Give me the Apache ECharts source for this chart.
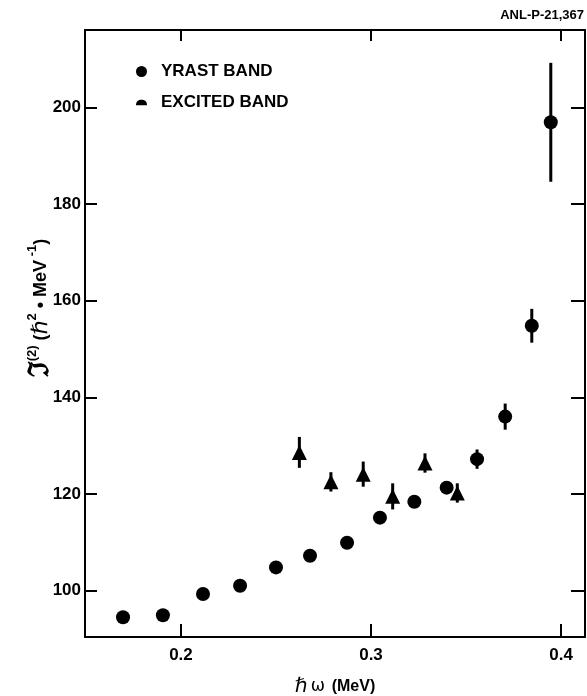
<!DOCTYPE html>
<html><head><meta charset="utf-8">
<script src="https://cdn.jsdelivr.net/npm/echarts@6/dist/echarts.min.js"></script>
<style>html,body{margin:0;padding:0;background:#fff}#c{width:587px;height:696px}</style>
</head><body><div id="c"></div>
<script>
// ---- data ----
const yrastX   = [0.1695,0.1905,0.2116,0.2311,0.2500,0.2679,0.2874,0.3047,0.3228,0.3398,0.3558,0.3706,0.3846,0.3946];
const yrastY   = [94.5,94.9,99.3,101.0,104.8,107.2,109.9,115.1,118.4,121.3,127.2,136.0,154.8,196.9];
const yrastErr = [0,0,0,0,0,0,0,0,0,0,2.0,2.7,3.5,12.3];
const excitedX   = [0.2623,0.2789,0.2959,0.3114,0.3284,0.3454];
const excitedY   = [128.6,122.5,124.1,119.5,126.4,120.2];
const excitedErr = [3.2,2.0,2.6,2.7,2.0,2.0];
const xTickValues = [0.2,0.3,0.4];
const yTickValues = [100,120,140,160,180,200];
const seriesNames = ['YRAST BAND','EXCITED BAND'];

const FONT = "'Liberation Sans',Arial,Helvetica,sans-serif";
const chart = echarts.init(document.getElementById('c'), null, {renderer:'canvas'});

function errRender(w){
  return function(params, api){
    const x = api.value(0), y = api.value(1), e = api.value(2);
    if (!e) return null;
    const p1 = api.coord([x, y - e]), p2 = api.coord([x, y + e]);
    return {type:'line', shape:{x1:p1[0], y1:p1[1], x2:p2[0], y2:p2[1]},
            style:{stroke:'#000', lineWidth:w}};
  };
}

const xMin = 0.1495, xMax = 0.4126, yMin = 90.4, yMax = 216.0;
const axisLineStyle = {color:'#000', width:2};

const option = {
  backgroundColor:'#fff',
  animation:false,
  grid:{left:85, right:2, top:30, bottom:59, outerBoundsMode:'none'},
  xAxis:[
    {type:'value', min:xMin, max:xMax, position:'bottom',
     axisLine:{lineStyle:axisLineStyle},
     axisTick:{inside:true, length:13, customValues:xTickValues, lineStyle:{color:'#000', width:2}},
     axisLabel:{customValues:xTickValues, formatter:v=>v.toFixed(1), color:'#000',
                fontSize:17, fontWeight:'bold', fontFamily:FONT, margin:10},
     splitLine:{show:false},
     name:'{h|ℏ} {w|ω}  {m|(MeV)}', nameLocation:'middle', nameGap:40,
     nameTextStyle:{color:'#000', rich:{
        h:{fontSize:20, fontFamily:'DejaVu Sans', color:'#000'},
        w:{fontSize:17, fontFamily:'DejaVu Sans', color:'#000'},
        m:{fontSize:16, fontFamily:FONT, fontWeight:'bold', color:'#000'}}}},
    {type:'value', min:xMin, max:xMax, position:'top',
     axisLine:{lineStyle:axisLineStyle},
     axisTick:{inside:true, length:11, customValues:xTickValues, lineStyle:{color:'#000', width:2}},
     axisLabel:{show:false}, splitLine:{show:false}}
  ],
  yAxis:[
    {type:'value', min:yMin, max:yMax, position:'left',
     axisLine:{show:true, lineStyle:axisLineStyle},
     axisTick:{show:true, inside:true, length:12, customValues:yTickValues, lineStyle:{color:'#000', width:2}},
     axisLabel:{customValues:yTickValues, color:'#000', fontSize:17, fontWeight:'bold', fontFamily:FONT, margin:4},
     splitLine:{show:false}},
    {type:'value', min:yMin, max:yMax, position:'right',
     axisLine:{show:true, lineStyle:axisLineStyle},
     axisTick:{show:true, inside:true, length:14, customValues:yTickValues, lineStyle:{color:'#000', width:2}},
     axisLabel:{show:false}, splitLine:{show:false}}
  ],
  legend:{
    orient:'vertical', left:136, top:63, padding:0, itemGap:14,
    itemWidth:11, itemHeight:11,
    textStyle:{fontSize:17, fontWeight:'bold', fontFamily:FONT, color:'#000', padding:[0,0,0,9]},
    data:[
      {name:seriesNames[0], icon:'circle', itemStyle:{color:'#000', opacity:1}},
      {name:seriesNames[1], icon:'path://M0,10 C0,3 4,0 10,0 C16,0 20,3 20,10 Z', itemStyle:{color:'#000', opacity:1}}
    ]
  },
  graphic:[
    {type:'text', right:3, top:9,
     style:{text:'ANL-P-21,367', fontSize:13, fontWeight:'bold', fontFamily:FONT, fill:'#000'}},
    {type:'text', x:41, y:308, rotation:Math.PI/2,
     style:{
       text:'{j|ℑ}{s|(2)}{n| (}{h|ℏ}{s|2}{n| • MeV}{s| -1}{n|)}',
       align:'center', verticalAlign:'middle', fill:'#000',
       rich:{
         j:{fontSize:28, fontWeight:'bold', fontFamily:'DejaVu Serif', lineHeight:30, fill:'#000'},
         n:{fontSize:18, fontFamily:FONT, fontWeight:'bold', lineHeight:30, fill:'#000'},
         h:{fontSize:22, fontFamily:'DejaVu Sans', lineHeight:30, fill:'#000'},
         s:{fontSize:13, fontFamily:FONT, fontWeight:'bold', verticalAlign:'top', lineHeight:14, fill:'#000'}
       }}}
  ],
  series:[
    {name:seriesNames[0], type:'scatter', xAxisIndex:0, yAxisIndex:0,
     symbol:'circle', symbolSize:14, itemStyle:{color:'#000', opacity:1}, z:3,
     data:yrastX.map((x,i)=>[x, yrastY[i]])},
    {name:seriesNames[1], type:'scatter', xAxisIndex:0, yAxisIndex:0,
     symbol:'triangle', symbolSize:[15,15], itemStyle:{color:'#000', opacity:1}, z:3,
     data:excitedX.map((x,i)=>[x, excitedY[i]])},
    {name:'yrast-err', type:'custom', xAxisIndex:0, yAxisIndex:0, z:2,
     renderItem:errRender(3), data:yrastX.map((x,i)=>[x, yrastY[i], yrastErr[i]])},
    {name:'excited-err', type:'custom', xAxisIndex:0, yAxisIndex:0, z:2,
     renderItem:errRender(3), data:excitedX.map((x,i)=>[x, excitedY[i], excitedErr[i]])}
  ]
};
chart.setOption(option);
</script>
</body></html>
